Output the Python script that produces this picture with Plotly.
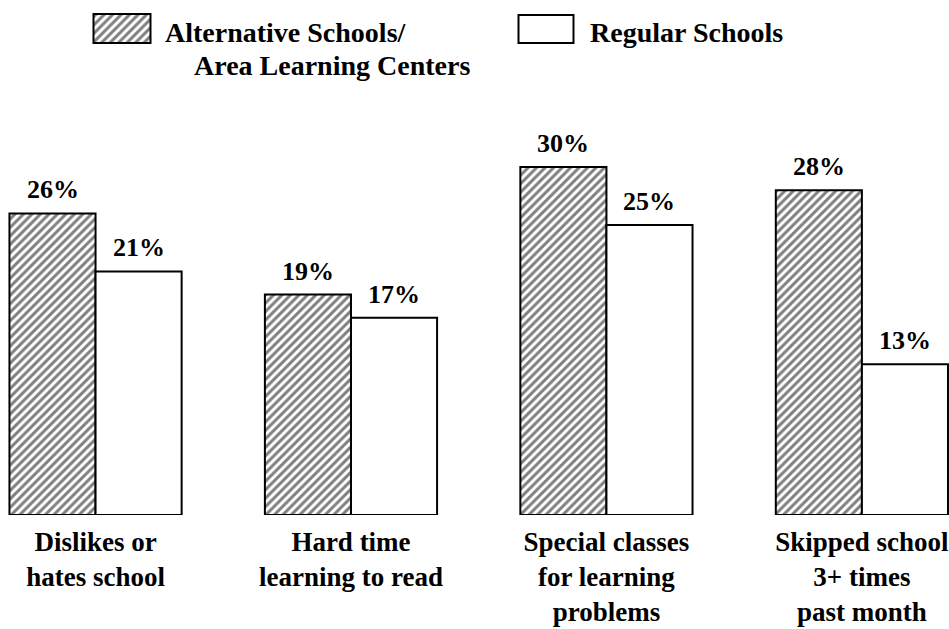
import plotly.graph_objects as go

# Datos
categories = [
    "Dislikes or<br>hates school",
    "Hard time<br>learning to read",
    "Special classes<br>for learning<br>problems",
    "Skipped school<br>3+ times<br>past month",
]
alternative = [26, 19, 30, 28]
regular = [21, 17, 25, 13]
series_names = ["Alternative Schools/", "Area Learning Centers", "Regular Schools"]

FONT = "Liberation Serif, Times New Roman, DejaVu Serif, serif"
INK = "#000000"
BAR_W = 0.337
positions = list(range(len(categories)))

fig = go.Figure()

hatch = dict(shape="/", size=6, solidity=0.5, fgcolor=INK, bgcolor="white")

fig.add_trace(go.Bar(
    x=positions, y=alternative, width=BAR_W, offset=-BAR_W,
    marker=dict(color="white", pattern=hatch, line=dict(color=INK, width=2)),
    showlegend=False, hoverinfo="skip",
))
fig.add_trace(go.Bar(
    x=positions, y=regular, width=BAR_W, offset=0,
    marker=dict(color="white", line=dict(color=INK, width=2)),
    showlegend=False, hoverinfo="skip",
))

# etiquetas de valor
for i, (a, r) in enumerate(zip(alternative, regular)):
    for xc, v in ((i - BAR_W / 2, a), (i + BAR_W / 2, r)):
        fig.add_annotation(
            x=xc, y=v, text=f"<b>{v}%</b>", showarrow=False,
            yanchor="bottom", yshift=7,
            font=dict(family=FONT, size=26, color=INK),
        )

# leyenda dibujada a mano (ejes en píxeles sobre el área de trazado)
fig.add_trace(go.Bar(
    x=[122], y=[29], base=[472], width=[57], xaxis="x2", yaxis="y2",
    marker=dict(color="white", pattern=hatch, line=dict(color=INK, width=2)),
    showlegend=False, hoverinfo="skip",
))
fig.add_trace(go.Bar(
    x=[546], y=[28], base=[472], width=[55], xaxis="x2", yaxis="y2",
    marker=dict(color="white", line=dict(color=INK, width=2)),
    showlegend=False, hoverinfo="skip",
))
for txt, x, y in ((series_names[0], 163, 483), (series_names[1], 192, 450),
                  (series_names[2], 588, 483)):
    fig.add_annotation(
        x=x, y=y, xref="x2", yref="y2", text=f"<b>{txt}</b>", showarrow=False,
        xanchor="left", yanchor="middle",
        font=dict(family=FONT, size=28, color=INK),
    )

fig.update_layout(
    width=949, height=629,
    margin=dict(l=0, r=0, t=0, b=114),
    paper_bgcolor="white", plot_bgcolor="white",
    barmode="overlay",
    xaxis=dict(
        range=[-0.374, 3.341], tickvals=positions,
        ticktext=[f"<b>{c}</b>" for c in categories],
        tickfont=dict(family=FONT, size=27, color=INK),
        ticklabeloverflow="allow", ticklabelstandoff=8,
        showgrid=False, zeroline=False, showline=False, ticks="",
    ),
    yaxis=dict(range=[0, 44.4], visible=False, showgrid=False),
    xaxis2=dict(range=[0, 949], overlaying="x", visible=False),
    yaxis2=dict(range=[0, 515], overlaying="y", visible=False),
)

fig.write_html("out.html", config={"displayModeBar": False},
               post_script="document.body.style.margin='0';")
